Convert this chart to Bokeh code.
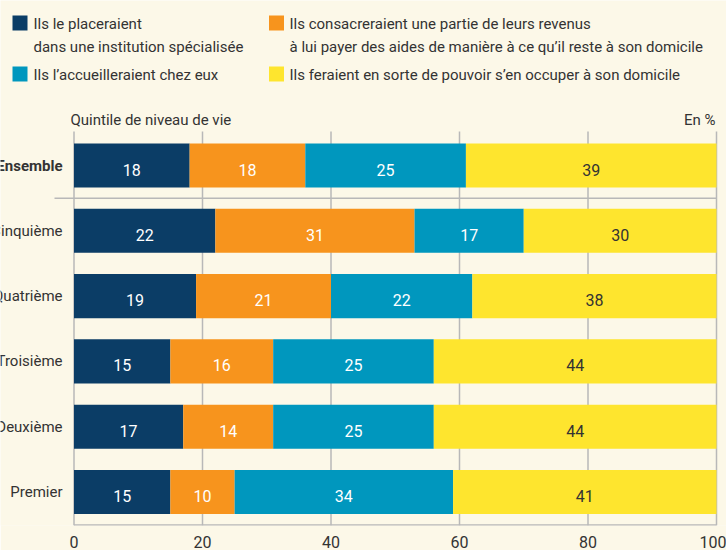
import numpy as np
from bokeh.plotting import figure
from bokeh.models import ColumnDataSource, Range1d, FixedTicker
from bokeh.core.properties import value
from bokeh.embed import file_html
from bokeh.resources import INLINE

# ---- data ----
categories = ["Ensemble", "Cinquième", "Quatrième", "Troisième", "Deuxième", "Premier"]
placer = [18, 22, 19, 15, 17, 15]
consacrer = [18, 31, 21, 16, 14, 10]
accueillir = [25, 17, 22, 25, 25, 34]
occuper = [39, 30, 38, 44, 44, 41]
series_names = ["placer", "consacrer", "accueillir", "occuper"]
legend_labels = [
    ["Ils le placeraient", "dans une institution spécialisée"],
    ["Ils l’accueilleraient chez eux"],
    ["Ils consacreraient une partie de leurs revenus",
     "à lui payer des aides de manière à ce qu’il reste à son domicile"],
    ["Ils feraient en sorte de pouvoir s’en occuper à son domicile"],
]
x_ticks = [0, 20, 40, 60, 80, 100]
y_title = "Quintile de niveau de vie"
unit_label = "En %"

# ---- style ----
FONT = "Roboto"
BG = "#FCF8E8"
TXT = "#333333"
GRID = "#B8B8B8"
colors = {"placer": "#0B3D66", "consacrer": "#F7941D", "accueillir": "#0097BE", "occuper": "#FEE52E"}
label_colors = {"placer": "white", "consacrer": "white", "accueillir": "white", "occuper": TXT}

W, H = 726, 550
BOTTOM = 25
FH = H - BOTTOM
PX_X = 6.425          # pixels per percent
X0 = -73.5 / PX_X
X1 = 100 + (W - 716) / PX_X
PITCH = 65.3
Y0 = -0.513
Y1 = Y0 + FH / PITCH

def dx(sx):
    return X0 + sx / W * (X1 - X0)

def dy(sy):
    return Y1 - sy / FH * (Y1 - Y0)

n = len(categories)
ypos = [n - 1 - i for i in range(n)]
data = dict(cat=categories, y=ypos, placer=placer, consacrer=consacrer,
            accueillir=accueillir, occuper=occuper)
source = ColumnDataSource(data)

p = figure(width=W, height=H, output_backend="svg", toolbar_location=None,
           x_range=Range1d(X0, X1), y_range=Range1d(Y0, Y1),
           min_border_left=0, min_border_right=0, min_border_top=0, min_border_bottom=BOTTOM)
p.background_fill_color = BG
p.border_fill_color = BG
p.outline_line_color = None
p.grid.visible = False
p.yaxis.visible = False

ax = p.xaxis[0]
ax.ticker = FixedTicker(ticks=x_ticks)
ax.axis_line_color = None
ax.major_tick_line_color = None
ax.minor_tick_line_color = None
ax.major_label_text_font = FONT
ax.major_label_text_font_size = "16px"
ax.major_label_text_color = TXT
ax.major_label_standoff = 4

bar_h = 0.675
grid_top = dy(131)
grid_bot = Y0

# vertical grid lines (at 20..100) and left axis line
p.segment(x0=x_ticks, y0=[grid_bot] * len(x_ticks), x1=x_ticks, y1=[grid_top] * len(x_ticks),
          line_color=GRID, line_width=1.5)
# bottom axis line
p.segment(x0=[0], y0=[grid_bot], x1=[100], y1=[grid_bot], line_color=GRID, line_width=2.5)
# separator between Ensemble and quintiles
p.segment(x0=[dx(54)], y0=[n - 1.5], x1=[100], y1=[n - 1.5], line_color=GRID, line_width=1.5)

p.hbar_stack(series_names, y="y", height=bar_h, source=source,
             color=[colors[s] for s in series_names], line_color=None)

# value labels
left = np.zeros(n)
for s in series_names:
    vals = np.array(data[s], dtype=float)
    centers = left + vals / 2
    left = left + vals
    p.text(x=list(centers), y=ypos, text=[str(v) for v in data[s]],
           text_align="center", text_baseline="middle", y_offset=4,
           text_font=value(FONT), text_font_size="16px", text_color=label_colors[s])

# category labels
for i, c in enumerate(categories):
    p.text(x=[dx(62)], y=[ypos[i]], text=[c], text_align="right", text_baseline="middle",
           text_font=value(FONT), text_font_size="15px", text_color=TXT,
           text_font_style="bold" if i == 0 else "normal")

# titles
p.text(x=[dx(70)], y=[dy(119)], text=[y_title], text_align="left", text_baseline="middle",
       text_font=value(FONT), text_font_size="15px", text_color=TXT)
p.text(x=[dx(715)], y=[dy(119)], text=[unit_label], text_align="right", text_baseline="middle",
       text_font=value(FONT), text_font_size="15px", text_color=TXT)

# legend
leg_sq = [(19.5, 22.5), (19.5, 73.5), (276, 22.5), (276, 73.5)]
leg_tx = [(33, [23, 46]), (33, [74]), (289, [23, 46]), (289, [74])]
leg_keys = ["placer", "accueillir", "consacrer", "occuper"]
for k, (sx, sy), (tx, mids), lines in zip(leg_keys, leg_sq, leg_tx, legend_labels):
    p.scatter(x=[dx(sx)], y=[dy(sy)], marker="square", size=15, color=colors[k], line_color=None)
    for m, line in zip(mids, lines):
        p.text(x=[dx(tx)], y=[dy(m)], text=[line], text_align="left", text_baseline="middle",
               text_font=value(FONT), text_font_size="15px", text_color=TXT)

open("out.html", "w").write(file_html(p, INLINE))
